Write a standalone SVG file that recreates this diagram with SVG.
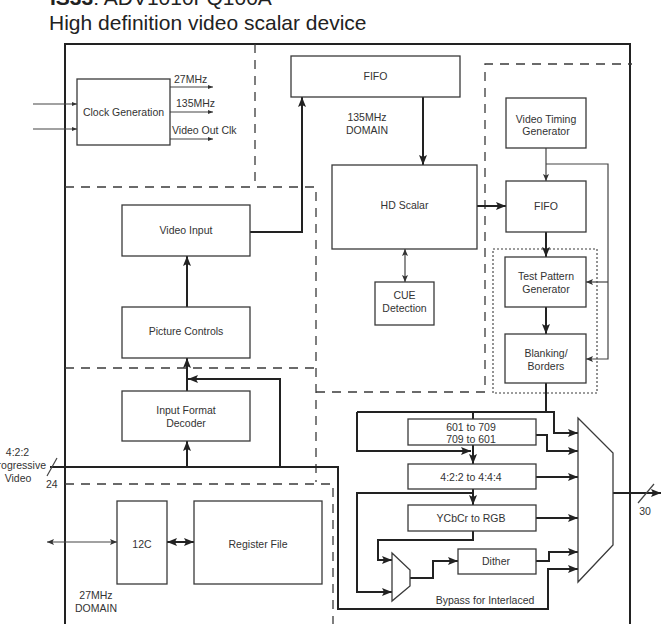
<svg xmlns="http://www.w3.org/2000/svg" width="662" height="624" viewBox="0 0 662 624">
<style>
text{font-family:"Liberation Sans",Arial,sans-serif;fill:#333;font-size:10.5px}
.c{text-anchor:middle}
.e{text-anchor:end}
.t{font-size:21px;fill:#222}
.box{fill:#fff;stroke:#3a3a3a;stroke-width:1.3}
.dash{fill:none;stroke:#3a3a3a;stroke-width:1.3;stroke-dasharray:9 7}
.dot{fill:none;stroke:#3a3a3a;stroke-width:1.1;stroke-dasharray:2 2}
.k{fill:none;stroke:#222;stroke-width:2}
.n{fill:none;stroke:#444;stroke-width:1.2}
</style>
<defs>
<marker id="ak" viewBox="0 0 10 8" refX="10" refY="4" markerWidth="10" markerHeight="8" markerUnits="userSpaceOnUse" orient="auto-start-reverse"><path d="M0,0 L10,4 L0,8 L2,4 z" fill="#222"/></marker>
<marker id="an" viewBox="0 0 7 6" refX="7" refY="3" markerWidth="7" markerHeight="6" markerUnits="userSpaceOnUse" orient="auto-start-reverse"><path d="M0,0 L7,3 L0,6 L1.5,3 z" fill="#333"/></marker>
<marker id="as" viewBox="0 0 5 4" refX="5" refY="2" markerWidth="5" markerHeight="4" markerUnits="userSpaceOnUse" orient="auto-start-reverse"><path d="M0,0 L5,2 L0,4 z" fill="#333"/></marker>
</defs>

<g id="title">
<text class="t" x="50" y="5"><tspan font-weight="bold">IS33</tspan>: ADV1010FQ100A</text>
<text class="t" x="49" y="30">High definition video scalar device</text>
</g>

<g id="frame">
<path d="M65,630 V44 H630 V630" fill="none" stroke="#222" stroke-width="2"/>
<path class="dash" d="M255,44 V187"/>
<path class="dash" d="M65,187 H316 V482"/>
<path class="dash" d="M316,392 H485 V64 H632"/>
<path class="dash" d="M65,368 H316"/>
<path class="dash" d="M65,484 H333 V624"/>
<rect class="dot" x="493" y="249" width="104" height="144"/>
<text class="c" x="367" y="121">135MHz</text>
<text class="c" x="367" y="134">DOMAIN</text>
<text class="c" x="96" y="599">27MHz</text>
<text class="c" x="96" y="612">DOMAIN</text>
</g>

<g id="connectors">
<path class="n" d="M33,104 H77" marker-end="url(#as)"/>
<path class="n" d="M33,129 H77" marker-end="url(#as)"/>
<path class="n" d="M170,87 H213" marker-end="url(#as)"/>
<path class="n" d="M170,112 H213" marker-end="url(#as)"/>
<path class="n" d="M170,139 H213" marker-end="url(#as)"/>
<path class="k" d="M250,232 H302 V97" marker-end="url(#ak)"/>
<path class="k" d="M423,97 V165" marker-end="url(#ak)"/>
<path class="k" d="M187,307 V256" marker-end="url(#ak)"/>
<path class="k" d="M187,391 V358" marker-end="url(#ak)"/>
<path class="k" d="M187,467 V441" marker-end="url(#ak)"/>
<path class="k" d="M280,467 V379 H188" marker-end="url(#ak)"/>
<path class="k" d="M50,467 H338 V609 H548 V569 H578" marker-end="url(#ak)"/>
<path class="n" d="M47,476 L57,458"/>
<path class="k" d="M477,206 H506" marker-end="url(#ak)"/>
<path class="n" d="M546,148 V181" marker-end="url(#an)"/>
<path class="n" d="M546,164 H608 V359 H586" marker-end="url(#an)"/>
<path class="n" d="M608,282 H586" marker-end="url(#an)"/>
<path class="k" d="M546,232 V257" marker-end="url(#ak)"/>
<path class="k" d="M546,307 V334" marker-end="url(#ak)"/>
<path class="n" d="M405,249 V282" marker-start="url(#an)" marker-end="url(#an)"/>
<path class="k" d="M546,383 V412"/>
<path class="k" d="M357,412 H554 V433 H578" marker-end="url(#ak)"/>
<path class="k" d="M357,412 V451 H471" marker-end="url(#ak)"/>
<path class="k" d="M473,412 V419"/>
<path class="k" d="M473,445 V464" marker-end="url(#ak)"/>
<path class="k" d="M536,435 H547 V451 H578" marker-end="url(#ak)"/>
<path class="k" d="M536,477 H578" marker-end="url(#ak)"/>
<path class="k" d="M473,489 V505" marker-end="url(#ak)"/>
<path class="k" d="M473,493 H357 V592 H392" marker-end="url(#ak)"/>
<path class="k" d="M536,518 H578" marker-end="url(#ak)"/>
<path class="k" d="M473,531 V540 H378 V560 H392" marker-end="url(#ak)"/>
<path class="k" d="M410,578 H433 V561 H458" marker-end="url(#ak)"/>
<path class="k" d="M536,561 H549 V552 H578" marker-end="url(#ak)"/>
<path class="k" d="M613,493 H661" marker-end="url(#ak)"/>
<path class="n" d="M638,503 L654,484"/>
<path class="n" d="M47,542 H117" marker-start="url(#an)" marker-end="url(#an)"/>
<path class="k" d="M167,542 H194" marker-start="url(#ak)" marker-end="url(#ak)"/>
<text x="174" y="83">27MHz</text>
<text x="176" y="107">135MHz</text>
<text x="172" y="134">Video Out Clk</text>
<text class="c" x="17.5" y="456">4:2:2</text>
<text class="e" x="46" y="469">Progressive</text>
<text class="c" x="18" y="482">Video</text>
<text x="46" y="488">24</text>
<text class="c" x="645" y="515">30</text>
<text class="c" x="485" y="604">Bypass for Interlaced</text>
</g>

<g id="clock"><rect class="box" x="77" y="79" width="93" height="66"/><text class="c" x="123.5" y="116">Clock Generation</text></g>
<g id="fifo1"><rect class="box" x="291" y="56" width="169" height="41"/><text class="c" x="375.5" y="80">FIFO</text></g>
<g id="videoinput"><rect class="box" x="122" y="205" width="128" height="51"/><text class="c" x="186" y="234">Video Input</text></g>
<g id="picture"><rect class="box" x="122" y="307" width="128" height="51"/><text class="c" x="186" y="335">Picture Controls</text></g>
<g id="ifd"><rect class="box" x="122" y="391" width="128" height="50"/><text class="c" x="186" y="414">Input Format</text><text class="c" x="186" y="427">Decoder</text></g>
<g id="hdscalar"><rect class="box" x="332" y="165" width="145" height="84"/><text class="c" x="404.5" y="209">HD Scalar</text></g>
<g id="cue"><rect class="box" x="375" y="282" width="59" height="43"/><text class="c" x="404.5" y="299">CUE</text><text class="c" x="404.5" y="312">Detection</text></g>
<g id="vtg"><rect class="box" x="506" y="98" width="80" height="50"/><text class="c" x="546" y="122.5">Video Timing</text><text class="c" x="546" y="135">Generator</text></g>
<g id="fifo2"><rect class="box" x="506" y="181" width="80" height="51"/><text class="c" x="546" y="210">FIFO</text></g>
<g id="tpg"><rect class="box" x="505" y="257" width="81" height="50"/><text class="c" x="546" y="280">Test Pattern</text><text class="c" x="546" y="293">Generator</text></g>
<g id="blank"><rect class="box" x="505" y="334" width="81" height="49"/><text class="c" x="546" y="357">Blanking/</text><text class="c" x="546" y="370">Borders</text></g>
<g id="i2c"><rect class="box" x="117" y="501" width="50" height="83"/><text class="c" x="142" y="548">12C</text></g>
<g id="regfile"><rect class="box" x="194" y="501" width="128" height="83"/><text class="c" x="258" y="548">Register File</text></g>
<g id="c601"><rect class="box" x="408" y="419" width="128" height="26"/><text class="c" x="471" y="430.5">601 to 709</text><text class="c" x="471" y="443">709 to 601</text></g>
<g id="c422"><rect class="box" x="408" y="464" width="128" height="25"/><text class="c" x="471" y="481">4:2:2 to 4:4:4</text></g>
<g id="ycc"><rect class="box" x="408" y="505" width="128" height="26"/><text class="c" x="471" y="522">YCbCr to RGB</text></g>
<g id="dither"><rect class="box" x="458" y="549" width="78" height="25"/><text class="c" x="496" y="565">Dither</text></g>
<g id="muxsmall"><polygon class="box" points="392,553 410,570 410,586 392,601"/></g>
<g id="muxbig"><polygon class="box" points="578,418 613,453 613,545 578,582"/></g>
</svg>
